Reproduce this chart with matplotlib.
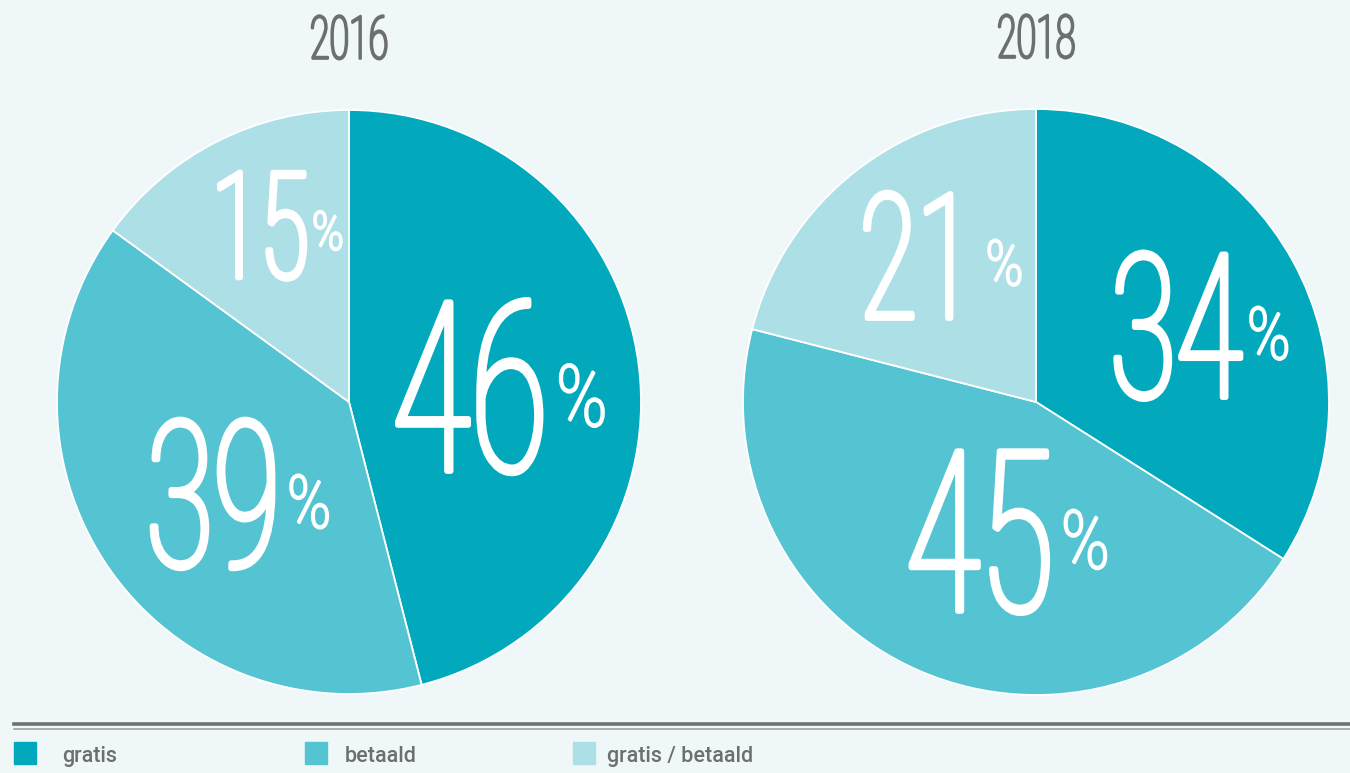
import numpy as np
import matplotlib.pyplot as plt
from matplotlib import patheffects
from matplotlib.transforms import Affine2D
from matplotlib.lines import Line2D
from matplotlib.patches import Rectangle

years = ["2016", "2018"]
categories = ["gratis", "betaald", "gratis / betaald"]
shares_2016 = [46, 39, 15]
shares_2018 = [34, 45, 21]

colors = ["#02a9bd", "#55c4d2", "#ade0e6"]
bg = "#eff7f9"
grey = "#6d6e71"
W, H = 1350, 773


class Squeeze(patheffects.AbstractPathEffect):
    """narrow glyphs horizontally (stand-in for a condensed font),
    optionally with an outline to make a light weight a bit heavier"""

    def __init__(self, sx, pivot="center", stroke=0):
        super().__init__()
        self.sx = sx
        self.pivot = pivot
        self.stroke = stroke

    def draw_path(self, renderer, gc, tpath, affine, rgbFace=None):
        if self.pivot == "left":
            px = 0
        else:
            ext = tpath.get_extents()
            px = (ext.x0 + ext.x1) / 2
        sq = Affine2D().translate(-px, 0).scale(self.sx, 1).translate(px, 0)
        gc0 = renderer.new_gc()
        gc0.copy_properties(gc)
        if self.stroke:
            gc0.set_linewidth(self.stroke)
            gc0.set_foreground(rgbFace)
        else:
            gc0.set_linewidth(0)
        renderer.draw_path(gc0, tpath, sq + affine, rgbFace)
        gc0.restore()


plt.rcParams["font.family"] = ["Roboto", "DejaVu Sans"]
SX = 0.6

fig = plt.figure(figsize=(W / 100, H / 100), dpi=100, facecolor=bg)
renderer = fig.canvas.get_renderer()

# axes boxes in pixels: left, bottom, size
boxes = [(57, 79, 584), (743, 78, 586)]
# label distance from centre (fraction of radius), digit height in px
label_dist = [[0.42, 0.56, 0.68], [0.54, 0.48, 0.63]]
label_h = [[169, 145, 105], [143, 160, 124]]

for (bx, by, bs), year, shares, dists, hs in zip(
        boxes, years, [shares_2016, shares_2018], label_dist, label_h):
    ax = fig.add_axes([bx / W, by / H, bs / W, bs / H])
    wedges, _ = ax.pie(shares, colors=colors, startangle=90, counterclock=False,
                       wedgeprops=dict(edgecolor="white", linewidth=1.3))
    ax.set_xlim(-1, 1)
    ax.set_ylim(-1, 1)
    t = ax.set_title(year, pad=37, fontsize=43, color=grey, fontweight="light")
    t.set_path_effects([Squeeze(SX, stroke=1.8)])

    for w, share, d, h in zip(wedges, shares, dists, hs):
        mid = np.deg2rad((w.theta1 + w.theta2) / 2)
        x, y = d * np.cos(mid), d * np.sin(mid)
        h_pt = h * 72 / 100
        fs = h_pt / 0.711
        num = ax.annotate(f"{share}", (x, y), xytext=(0, -h_pt / 2),
                          textcoords="offset points", ha="center", va="baseline",
                          fontsize=fs, color="white", fontweight="light",
                          path_effects=[Squeeze(SX, stroke=4.0)])
        w_pt = num.get_window_extent(renderer).width * 72 / 100
        pfs = 0.36 * fs
        ax.annotate("%", (x, y),
                    xytext=(SX * w_pt / 2 + 0.045 * h_pt, -0.05 * h_pt - 0.36 * pfs),
                    textcoords="offset points", ha="left", va="baseline",
                    fontsize=pfs, color="white", fontweight="light",
                    path_effects=[Squeeze(0.8, "left", stroke=1.8)])

# double rule above the legend
fig.add_artist(Line2D([14 / W, 1], [49.5 / H] * 2, color=grey, lw=2.6,
                      transform=fig.transFigure))
fig.add_artist(Line2D([14 / W, 1], [44 / H] * 2, color="#9d9fa2", lw=1.2,
                      transform=fig.transFigure))

# legend
legend_box_x = [14, 305, 573]
legend_text_x = [62, 345, 607]
for bxl, tx, lab, c in zip(legend_box_x, legend_text_x, categories, colors):
    fig.add_artist(Rectangle((bxl / W, 9 / H), 22 / W, 22 / H, color=c,
                             transform=fig.transFigure))
    fig.text(tx / W, 11 / H, lab, ha="left", va="baseline", fontsize=15.5,
             color=grey, fontweight="medium")

fig.savefig("out.png", dpi=100, facecolor=bg)
